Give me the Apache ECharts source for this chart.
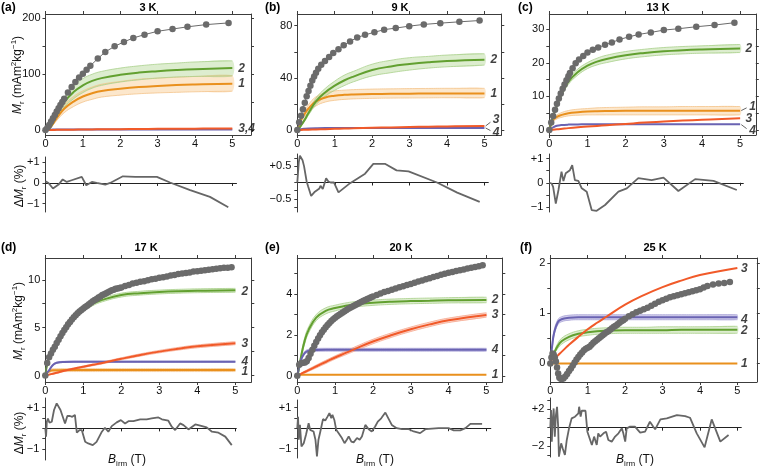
<!DOCTYPE html>
<html><head><meta charset="utf-8">
<script src="https://cdn.jsdelivr.net/npm/echarts@6/dist/echarts.min.js"></script>
<style>html,body{margin:0;padding:0;background:#fff}#c{width:763px;height:469px}</style>
</head><body><div id="c"></div>
<script>
// ---------- DATA ----------
const FX = [0, 0.05, 0.1, 0.2, 0.3, 0.5, 0.75, 1, 1.25, 1.5, 2, 2.5, 3, 3.5, 4, 5];

// (a) 3 K
const a_gx = [0,0.05,0.1,0.15,0.2,0.25,0.3,0.35,0.4,0.45,0.5,0.6,0.7,0.8,0.9,1.0,1.1,1.2,1.4,1.6,1.85,2.1,2.35,2.65,3.0,3.4,3.8,4.3,4.9];
const a_gy = [0,4,9,15,21,27,33,39,45,50,56,67,77,86,94,101,108,115,128,140,150,158,165,171,177,181,185,189,192];
const a_fit1 = [0,0,2,11,21,38,51,60,66,70,74,77,79,80.5,81.5,83];
const a_fit1lo = [0,0,1.5,9,17,31,42,50,55,59,62.5,65,66.5,67.5,68.5,69.5];
const a_fit1hi = [0,0,2.5,13,25,45,60,70,77,82,87,91,93,94.5,96,97.5];
const a_fit2 = [0,0,2,14,27,50,68,80,88,93,99,103,105.5,107.5,109,111];
const a_fit2lo = [0,0,1.5,11,22,41,56,67,75,80,86,90,93,95,96,97];
const a_fit2hi = [0,0,2.5,17,32,58,79,92,100,105,111,115,118,120,122,124];
const a_fit3 = [0,0,0,0.1,0.2,0.4,0.6,0.8,1,1.2,1.5,1.8,2.0,2.2,2.4,2.6];
const a_fit4 = [0,0.3,0.5,0.8,0.9,1,1,1,1,1,1,1,1,1,1,1];
const a_rx = [0,0.08,0.2,0.35,0.46,0.57,0.7,0.97,1.09,1.24,1.37,1.6,1.73,2.07,2.4,2.98,3.33,3.87,4.4,4.89];
const a_ry = [0.08,0,-0.27,-0.08,0.17,0.05,0.13,0.29,-0.11,0.05,0,-0.08,0,0.32,0.29,0.29,0.02,-0.35,-0.67,-1.17];
const a_lab = [[5.12,110,'2'],[5.12,83,'1'],[5.12,2,'3,4']];

// (b) 9 K
const b_gx = [0,0.05,0.1,0.15,0.2,0.25,0.3,0.35,0.4,0.45,0.5,0.56,0.64,0.74,0.85,0.96,1.1,1.24,1.41,1.6,1.81,2.06,2.32,2.63,2.99,3.38,3.82,4.33,4.87];
const b_gy = [0,6,11,16,21,26,30,34,38,41,44,47,50,53,56,59,62,65,68,71,73,75,77,78.2,79.7,81,82,83,84];
const b_fit1 = [0,3.5,7.7,12.5,16.5,22,25,26.3,27,27.3,27.6,27.8,27.9,28,28,28];
const b_fit1lo = [0,3,6.5,10.5,13.5,18.5,21.5,22.8,23.5,23.9,24.3,24.5,24.6,24.7,24.8,24.8];
const b_fit1hi = [0,4,8.9,14.5,19.5,25.5,28.5,30,30.6,31,31.4,31.6,31.8,31.9,32,32];
const b_fit2 = [0,1.5,3.5,8,13,22,29,34,38,41,46,48.8,50.6,52,53,54];
const b_fit2lo = [0,1.3,3,7,11.5,19.5,26,30.5,34,37,41.5,44,46,47.5,48.5,49.8];
const b_fit2hi = [0,1.7,4,9,14.5,24.5,32,37.5,42,45,50.5,53.5,55.5,56.5,57.5,58.5];
const b_fit3 = [0,0,0.1,0.2,0.3,0.5,0.7,0.9,1.1,1.3,1.7,2.0,2.3,2.6,2.8,3.1];
const b_fit4 = [0,0.4,0.7,1.0,1.2,1.4,1.5,1.5,1.5,1.5,1.5,1.5,1.5,1.5,1.5,1.5];
const b_rx = [0,0.04,0.07,0.11,0.14,0.18,0.25,0.29,0.37,0.47,0.59,0.62,0.68,0.77,0.83,0.89,0.98,1.1,1.41,1.81,2.03,2.34,2.65,2.97,3.73,4.27,4.87];
const b_ry = [0,0.62,0.82,0.8,0.68,0.5,0.03,-0.12,-0.41,-0.28,-0.18,-0.1,-0.2,0.13,0.03,0,0,-0.3,-0.02,0.27,0.57,0.57,0.37,0.34,0,-0.31,-0.59];
const b_lab = [[5.12,54,'2'],[5.12,28,'1'],[5.18,8.2,'3'],[5.18,-1.8,'4']];
const b_lead = [[[5.03,3.1],[5.16,6.0]],[[5.03,1.6],[5.16,-0.4]]];

// (c) 13 K
const c_gx = [0,0.05,0.1,0.15,0.2,0.25,0.3,0.35,0.4,0.45,0.5,0.54,0.61,0.69,0.78,0.89,1.0,1.14,1.28,1.46,1.64,1.84,2.09,2.34,2.66,3.0,3.38,3.85,4.33,4.85];
const c_gy = [0,2.2,4.2,6.0,7.8,9.4,10.9,12.3,13.6,14.8,16.0,17.0,18.4,19.9,21.0,22.1,23.1,23.9,24.6,25.4,26.1,27.0,27.8,28.5,29.1,29.8,30.2,30.8,31.3,32];
const c_fit1 = [0,1.8,3,3.9,4.4,5.0,5.3,5.5,5.6,5.65,5.7,5.7,5.7,5.7,5.7,5.7];
const c_fit1lo = [0,1.5,2.5,3.3,3.7,4.2,4.4,4.5,4.5,4.5,4.5,4.5,4.5,4.5,4.5,4.5];
const c_fit1hi = [0,2.1,3.5,4.5,5.1,5.8,6.2,6.4,6.6,6.7,6.8,6.9,6.9,7,7,7];
const c_fit2 = [0,2,4,7.3,10.2,14.4,17.3,19.2,20.4,21.2,22.3,23,23.5,23.8,24,24.3];
const c_fit2lo = [0,1.9,3.8,6.9,9.6,13.6,16.4,18.3,19.4,20.1,21.2,21.9,22.4,22.7,22.9,23.1];
const c_fit2hi = [0,2.1,4.2,7.7,10.8,15.2,18.2,20.1,21.4,22.3,23.4,24.1,24.6,24.9,25.1,25.5];
const c_fit3 = [0,0.05,0.1,0.2,0.3,0.55,0.8,1.0,1.2,1.4,1.8,2.2,2.5,2.8,3.05,3.5];
const c_fit4 = [0,0.45,0.8,1.25,1.45,1.6,1.65,1.7,1.7,1.7,1.7,1.7,1.7,1.7,1.7,1.7];
const c_rx = [0,0.06,0.1,0.17,0.24,0.32,0.37,0.43,0.54,0.6,0.67,0.76,0.85,0.98,1.11,1.24,1.46,1.81,2.03,2.33,2.68,2.99,3.38,3.82,4.3,4.91];
const c_ry = [0,-0.03,-0.17,-0.86,-0.3,0.46,0.07,0.39,0.52,0.73,0.11,0.08,-0.23,-0.37,-1.13,-1.16,-0.92,-0.37,-0.23,0.19,0.11,0.21,-0.34,0.15,0.08,-0.3];
const c_lab = [[5.1,24.3,'2'],[5.2,7.0,'1'],[5.1,3.5,'3'],[5.2,-0.3,'4']];
const c_lead = [[[5.03,5.8],[5.17,6.6]],[[5.03,1.6],[5.17,0.4]]];

// (d) 17 K
const d_gx = [0,0.05,0.1,0.15,0.2,0.25,0.3,0.35,0.4,0.45,0.5,0.55,0.6,0.65,0.7,0.75,0.8,0.85,0.9,0.95,1.0,1.05,1.1,1.15,1.2,1.25,1.3,1.35,1.4,1.45,1.5,1.55,1.6,1.65,1.7,1.75,1.8,1.85,1.9,1.95,2.0,2.1,2.2,2.3,2.4,2.5,2.6,2.7,2.8,2.9,3.0,3.1,3.2,3.3,3.4,3.5,3.6,3.7,3.8,3.9,4.0,4.1,4.2,4.3,4.4,4.5,4.6,4.7,4.8,4.9];
const d_gy = [0,1.3,1.9,2.3,2.7,3.0,3.4,3.75,4.1,4.45,4.75,5.05,5.35,5.6,5.85,6.1,6.3,6.5,6.7,6.85,7.0,7.15,7.3,7.45,7.6,7.75,7.9,8.0,8.15,8.25,8.4,8.5,8.6,8.7,8.8,8.9,8.95,9.05,9.1,9.15,9.2,9.35,9.45,9.6,9.7,9.8,9.85,9.95,10.05,10.1,10.2,10.25,10.35,10.45,10.5,10.6,10.65,10.7,10.75,10.85,10.9,10.95,11.0,11.05,11.1,11.15,11.2,11.25,11.25,11.3];
const d_fit1 = [0,0.3,0.45,0.55,0.56,0.57,0.57,0.57,0.57,0.57,0.57,0.57,0.57,0.57,0.57,0.57];
const d_fit1lo = [0,0.2,0.32,0.4,0.41,0.42,0.42,0.42,0.42,0.42,0.42,0.42,0.42,0.42,0.42,0.42];
const d_fit1hi = [0,0.4,0.58,0.7,0.71,0.72,0.72,0.72,0.72,0.72,0.72,0.72,0.72,0.72,0.72,0.72];
const d_fit2 = [0,1.2,1.85,2.65,3.35,4.7,6.0,6.9,7.5,7.9,8.4,8.6,8.72,8.8,8.85,8.9];
const d_fit2lo = [0,1.1,1.75,2.5,3.2,4.55,5.8,6.7,7.3,7.7,8.2,8.4,8.52,8.6,8.65,8.7];
const d_fit2hi = [0,1.3,1.95,2.8,3.5,4.85,6.2,7.1,7.7,8.1,8.6,8.8,8.92,9.0,9.05,9.1];
const d_fit3 = [0,0.05,0.1,0.2,0.3,0.5,0.72,0.92,1.12,1.32,1.75,2.15,2.5,2.8,3.05,3.38];
const d_fit3lo = [0,0.02,0.06,0.15,0.24,0.43,0.64,0.84,1.03,1.22,1.64,2.03,2.37,2.66,2.9,3.22];
const d_fit3hi = [0,0.08,0.14,0.25,0.36,0.57,0.8,1.0,1.21,1.42,1.86,2.27,2.63,2.94,3.2,3.54];
const d_fit4 = [0,0.3,0.55,1.1,1.33,1.43,1.45,1.45,1.45,1.45,1.45,1.45,1.45,1.45,1.45,1.45];
const d_fit4lo = [0,0.26,0.5,1.04,1.27,1.37,1.39,1.39,1.39,1.39,1.39,1.39,1.39,1.39,1.39,1.39];
const d_fit4hi = [0,0.34,0.6,1.16,1.39,1.49,1.51,1.51,1.51,1.51,1.51,1.51,1.51,1.51,1.51,1.51];
const d_rx = [0,0.02,0.04,0.07,0.11,0.17,0.23,0.3,0.34,0.4,0.46,0.52,0.58,0.65,0.71,0.78,0.83,0.9,0.96,1.05,1.13,1.25,1.35,1.49,1.57,1.66,1.75,1.88,1.99,2.1,2.19,2.32,2.5,2.67,2.8,2.98,3.07,3.24,3.33,3.42,3.55,3.64,3.77,3.95,4.08,4.25,4.39,4.56,4.74,4.91];
const d_ry = [0,-0.4,0.32,0.48,0.27,0.32,0.89,1.21,1.29,0.89,0.56,0.24,0.6,0.6,0.56,0.65,-0.21,-0.08,-0.08,-0.65,-0.73,-0.81,-0.65,-0.16,0.03,-0.16,0.11,0.29,0.4,0.24,0.35,0.35,0.44,0.44,0.48,0.53,0.44,0.37,0.08,-0.08,0.24,0.16,-0.05,0.19,0.13,0.05,-0.16,-0.21,-0.4,-0.81];
const d_lab = [[5.12,8.8,'2'],[5.12,3.36,'3'],[5.12,1.45,'4'],[5.12,0.45,'1']];

// (e) 20 K
const e_gx = [0,0.05,0.1,0.15,0.2,0.25,0.3,0.35,0.4,0.45,0.5,0.55,0.6,0.65,0.7,0.75,0.8,0.85,0.9,0.95,1.0,1.05,1.1,1.15,1.2,1.25,1.3,1.35,1.4,1.45,1.5,1.55,1.6,1.65,1.7,1.75,1.8,1.85,1.9,1.95,2.0,2.1,2.2,2.3,2.4,2.5,2.6,2.7,2.8,2.9,3.0,3.1,3.2,3.3,3.4,3.5,3.6,3.7,3.8,3.9,4.0,4.1,4.2,4.3,4.4,4.5,4.6,4.7,4.8,4.9];
const e_gy = [0,0.55,0.62,0.64,0.66,0.72,0.88,1.08,1.28,1.48,1.66,1.83,1.99,2.13,2.26,2.38,2.49,2.59,2.68,2.77,2.85,2.92,2.98,3.04,3.1,3.16,3.22,3.28,3.33,3.38,3.43,3.48,3.53,3.58,3.63,3.68,3.72,3.76,3.8,3.85,3.89,3.96,4.03,4.1,4.16,4.22,4.28,4.34,4.39,4.45,4.5,4.56,4.62,4.67,4.73,4.78,4.84,4.89,4.95,5.0,5.05,5.09,5.13,5.17,5.21,5.25,5.29,5.33,5.37,5.42];
const e_fit1 = [0,0.03,0.05,0.05,0.05,0.05,0.05,0.05,0.05,0.05,0.05,0.05,0.05,0.05,0.05,0.05];
const e_fit2 = [0,0.4,0.95,1.75,2.25,2.85,3.18,3.32,3.42,3.5,3.58,3.63,3.66,3.68,3.7,3.72];
const e_fit2lo = [0,0.35,0.85,1.6,2.1,2.7,3.03,3.18,3.29,3.37,3.45,3.5,3.53,3.55,3.57,3.58];
const e_fit2hi = [0,0.45,1.05,1.9,2.4,3.0,3.33,3.46,3.56,3.63,3.71,3.76,3.79,3.81,3.83,3.85];
const e_fit3 = [0,0.05,0.1,0.19,0.28,0.46,0.68,0.9,1.1,1.3,1.68,2.0,2.28,2.52,2.72,2.98];
const e_fit3lo = [0,0.03,0.07,0.14,0.22,0.39,0.6,0.82,1.01,1.2,1.57,1.89,2.17,2.41,2.61,2.87];
const e_fit3hi = [0,0.07,0.13,0.24,0.34,0.53,0.76,0.98,1.19,1.4,1.79,2.11,2.39,2.63,2.83,3.09];
const e_fit4 = [0,0.45,0.8,1.13,1.23,1.27,1.28,1.28,1.28,1.28,1.28,1.28,1.28,1.28,1.28,1.28];
const e_fit4lo = [0,0.39,0.73,1.06,1.16,1.2,1.21,1.21,1.21,1.21,1.21,1.21,1.21,1.21,1.21,1.21];
const e_fit4hi = [0,0.51,0.87,1.2,1.3,1.34,1.35,1.35,1.35,1.35,1.35,1.35,1.35,1.35,1.35,1.35];
const e_rx = [0,0.02,0.04,0.07,0.11,0.17,0.23,0.3,0.34,0.39,0.43,0.48,0.52,0.56,0.61,0.68,0.74,0.8,0.85,0.9,0.93,0.98,1.03,1.09,1.18,1.25,1.31,1.36,1.43,1.49,1.58,1.65,1.71,1.8,1.89,1.97,2.06,2.13,2.22,2.33,2.42,2.5,2.63,2.77,2.95,3.08,3.25,3.39,3.74,4.0,4.14,4.31,4.45,4.58,4.89];
const e_ry = [0,0.56,-0.56,0.16,-0.89,-0.73,-0.32,0.24,-0.08,-0.16,-0.16,-0.56,-1.37,-0.56,-0.16,0.44,0.37,0.56,0.73,0.48,0.65,0.4,-0.08,-0.24,-0.48,-0.73,-0.56,-0.4,-0.65,-0.69,-0.48,-0.56,-0.4,0.16,-0.05,-0.16,0.08,0.32,0.48,0.76,0.44,0.16,0,-0.05,-0.05,-0.16,-0.24,-0.05,0,0,-0.11,-0.11,0,0.21,0.21];
const e_lab = [[5.1,3.72,'2'],[5.1,2.98,'3'],[5.1,1.3,'4'],[5.1,0.07,'1']];

// (f) 25 K
const f_gx = [0,0.03,0.06,0.09,0.12,0.15,0.18,0.21,0.24,0.27,0.3,0.35,0.4,0.45,0.5,0.55,0.6,0.65,0.7,0.75,0.8,0.85,0.9,0.95,1.0,1.05,1.1,1.15,1.2,1.25,1.3,1.35,1.4,1.45,1.5,1.55,1.6,1.65,1.7,1.75,1.8,1.85,1.9,1.95,2.0,2.1,2.2,2.3,2.4,2.5,2.6,2.7,2.8,2.9,3.0,3.1,3.2,3.3,3.4,3.5,3.6,3.7,3.8,3.9,4.0,4.1,4.2,4.35,4.5,4.65,4.8];
const f_gy = [0,0.12,0.2,0.18,0.12,0.04,-0.08,-0.2,-0.28,-0.3,-0.31,-0.3,-0.26,-0.21,-0.15,-0.1,-0.04,0.02,0.08,0.13,0.18,0.22,0.26,0.29,0.31,0.33,0.37,0.41,0.44,0.47,0.5,0.53,0.56,0.59,0.62,0.64,0.67,0.7,0.73,0.75,0.78,0.81,0.84,0.86,0.89,0.94,0.98,1.02,1.05,1.08,1.11,1.15,1.19,1.23,1.26,1.29,1.32,1.34,1.36,1.38,1.4,1.42,1.44,1.46,1.48,1.51,1.54,1.57,1.59,1.6,1.62];
const f_fit1 = [0,0,0,0,0,0,0,0,0,0,0,0,0,0,0,0];
const f_fit2 = [0.05,0.1,0.2,0.35,0.44,0.53,0.59,0.62,0.64,0.65,0.66,0.66,0.66,0.67,0.67,0.67];
const f_fit2lo = [0.05,0.08,0.17,0.3,0.38,0.47,0.53,0.56,0.58,0.59,0.6,0.6,0.6,0.6,0.6,0.6];
const f_fit2hi = [0.05,0.12,0.23,0.4,0.5,0.59,0.65,0.68,0.7,0.71,0.72,0.72,0.73,0.73,0.73,0.74];
const f_fit3 = [0.05,0.08,0.1,0.16,0.23,0.37,0.53,0.68,0.81,0.93,1.17,1.36,1.52,1.65,1.76,1.9];
const f_fit4 = [0.05,0.35,0.6,0.82,0.88,0.91,0.92,0.92,0.92,0.92,0.92,0.92,0.92,0.92,0.92,0.92];
const f_fit4lo = [0.05,0.3,0.55,0.77,0.83,0.86,0.87,0.87,0.87,0.87,0.87,0.87,0.87,0.87,0.87,0.87];
const f_fit4hi = [0.05,0.4,0.65,0.87,0.93,0.96,0.97,0.97,0.97,0.97,0.97,0.97,0.97,0.97,0.97,0.97];
const f_rx = [0,0.02,0.04,0.06,0.09,0.12,0.15,0.18,0.21,0.23,0.29,0.33,0.39,0.44,0.5,0.57,0.61,0.66,0.7,0.75,0.77,0.81,0.84,0.88,0.94,0.99,1.04,1.11,1.17,1.24,1.28,1.33,1.42,1.49,1.55,1.64,1.73,1.82,1.91,1.95,2.0,2.04,2.13,2.26,2.4,2.53,2.66,2.75,2.8,2.94,3.11,3.38,3.6,3.73,3.91,4.12,4.31,4.54,4.76];
const f_ry = [0,1.89,-1.5,0.46,2.07,-0.96,1.36,2.25,0.11,-3.11,-1.68,-2.21,-2.93,-1.32,-0.07,1.0,1.18,1.18,1.36,1.54,2.25,1.18,1.82,1.89,1.82,-0.43,-0.61,-1.86,-0.96,-1.86,-0.61,-0.96,-0.61,-0.43,-1.32,-1.5,-0.96,-0.61,-0.07,-0.61,-1.5,-0.07,0.11,0.11,-0.54,-0.43,0.64,0.11,-0.18,0.89,1.0,1.36,1.25,1.07,-0.61,-2.11,0.89,-1.5,-0.79];
const f_lab = [[5.06,1.88,'3'],[5.06,0.88,'4'],[5.06,0.65,'2'],[5.06,0,'1']];

const TITLES = ['3 K','9 K','13 K','17 K','20 K','25 K'];
const LETTERS = ['(a)','(b)','(c)','(d)','(e)','(f)'];

// ---------- STYLE / LAYOUT ----------
const FONT = '"Liberation Sans", Arial, Helvetica, sans-serif';
const AX = '#3c3c3c';
const GRAY = '#6b6b6b';
const COL = {
  orange:{c:'#e9901d', fill:'rgba(247,186,110,0.35)', edge:'#f4c48c'},
  green:{c:'#62a030', fill:'rgba(150,200,105,0.32)', edge:'#a9d08b'},
  red:{c:'#f15a29', fill:'rgba(242,130,100,0.35)', edge:'#f6a88e'},
  purple:{c:'#6a63b2', fill:'rgba(125,115,200,0.35)', edge:'#a7a1d6'}
};
const PANELS = [
  {fits:[[a_fit1,a_fit1lo,a_fit1hi,'orange'],[a_fit2,a_fit2lo,a_fit2hi,'green'],[a_fit4,null,null,'purple'],[a_fit3,null,null,'red']],
   gray:[a_gx,a_gy], res:[a_rx,a_ry], lab:a_lab, lead:[],
   g:{l:45.5,t:14,w:205.5,h:121,xmax:5.5,ymin:-9,ymax:208,yt:[0,50,100,150,200],yl:[0,100,200]},
   r:{l:45.5,t:157,w:191,h:55,xmax:5.11,ymin:-1.4,ymax:1.25,yt:[-1,-0.5,0,0.5,1],yl:[-1,0,1]},
   tx:148, ty:8, lx:1},
  {fits:[[b_fit1,b_fit1lo,b_fit1hi,'orange'],[b_fit2,b_fit2lo,b_fit2hi,'green'],[b_fit4,null,null,'purple'],[b_fit3,null,null,'red']],
   gray:[b_gx,b_gy], res:[b_rx,b_ry], lab:b_lab, lead:b_lead,
   g:{l:297.3,t:14,w:204,h:121,xmax:5.45,ymin:-3.8,ymax:89,yt:[0,20,40,60,80],yl:[0,40,80]},
   r:{l:297.3,t:154,w:191,h:58,xmax:5.1,ymin:-0.9,ymax:0.87,yt:[-0.75,-0.5,-0.25,0,0.25,0.5,0.75],yl:[-0.5,0.5]},
   tx:400, ty:8, lx:265},
  {fits:[[c_fit1,c_fit1lo,c_fit1hi,'orange'],[c_fit2,c_fit2lo,c_fit2hi,'green'],[c_fit4,null,null,'purple'],[c_fit3,null,null,'red']],
   gray:[c_gx,c_gy], res:[c_rx,c_ry], lab:c_lab, lead:c_lead,
   g:{l:549.3,t:14,w:206.5,h:121,xmax:5.41,ymin:-1.5,ymax:34.6,yt:[0,5,10,15,20,25,30],yl:[0,10,20,30]},
   r:{l:549.3,t:154,w:194,h:58,xmax:5.08,ymin:-1.21,ymax:1.19,yt:[-1,-0.5,0,0.5,1],yl:[-1,0,1]},
   tx:658, ty:8, lx:518},
  {fits:[[d_fit1,d_fit1lo,d_fit1hi,'orange'],[d_fit2,d_fit2lo,d_fit2hi,'green'],[d_fit4,d_fit4lo,d_fit4hi,'purple'],[d_fit3,d_fit3lo,d_fit3hi,'red']],
   gray:[d_gx,d_gy], res:[d_rx,d_ry], lab:d_lab, lead:[],
   g:{l:45.3,t:258,w:206,h:124,xmax:5.42,ymin:-0.67,ymax:12.27,yt:[0,2.5,5,7.5,10],yl:[0,5,10]},
   r:{l:45.3,t:398,w:191,h:62,xmax:5.03,ymin:-1.53,ymax:1.47,yt:[-1,-0.5,0,0.5,1],yl:[-1,1]},
   tx:146, ty:248, lx:1, bx:127},
  {fits:[[e_fit1,null,null,'orange'],[e_fit2,e_fit2lo,e_fit2hi,'green'],[e_fit4,e_fit4lo,e_fit4hi,'purple'],[e_fit3,e_fit3lo,e_fit3hi,'red']],
   gray:[e_gx,e_gy], res:[e_rx,e_ry], lab:e_lab, lead:[],
   g:{l:297.3,t:258,w:205,h:124,xmax:5.42,ymin:-0.3,ymax:5.77,yt:[0,1,2,3,4,5],yl:[0,2,4]},
   r:{l:297.3,t:400,w:193.5,h:58,xmax:5.12,ymin:-1.45,ymax:1.37,yt:[-1,-0.5,0,0.5,1],yl:[-1,1]},
   tx:401, ty:248, lx:265, bx:375},
  {fits:[[f_fit1,null,null,'orange'],[f_fit2,f_fit2lo,f_fit2hi,'green'],[f_fit4,f_fit4lo,f_fit4hi,'purple'],[f_fit3,null,null,'red']],
   gray:[f_gx,f_gy], res:[f_rx,f_ry], lab:f_lab, lead:[],
   g:{l:550.3,t:258,w:206.5,h:124,xmax:5.52,ymin:-0.37,ymax:2.1,yt:[0,0.5,1,1.5,2],yl:[0,1,2]},
   r:{l:550.3,t:398,w:191,h:59,xmax:5.1,ymin:-3.15,ymax:3.19,yt:[-3,-2,-1,0,1,2,3],yl:[-2,2]},
   tx:655, ty:248, lx:520, bx:635}
];

const pts = (xs, ys) => xs.map((x, i) => [x, ys[i]]);
const XT = [0,1,2,3,4,5];
const lbl = {fontFamily:FONT, fontSize:11, color:'#111'};

function mainX(gi, g, pos, labels) {
  return {type:'value', gridIndex:gi, position:pos, min:0, max:g.xmax,
    axisLine:{show:true, onZero:false, lineStyle:{color:AX, width:1}},
    axisTick:{show:true, inside:false, length:3, customValues:XT, lineStyle:{color:AX}},
    axisLabel:Object.assign({show:labels, customValues:XT, margin:3}, lbl),
    splitLine:{show:false}};
}
function mainY(gi, g, pos, labels) {
  return {type:'value', gridIndex:gi, position:pos, min:g.ymin, max:g.ymax,
    axisLine:{show:true, onZero:false, lineStyle:{color:AX, width:1}},
    axisTick:{show:true, inside:false, length:3, customValues:g.yt, lineStyle:{color:AX}},
    axisLabel:Object.assign({show:labels, customValues:g.yl, margin:5}, lbl),
    splitLine:{show:false}};
}
function resX(gi, r) {
  return {type:'value', gridIndex:gi, min:0, max:r.xmax,
    axisLine:{show:true, onZero:true, lineStyle:{color:'#222', width:1}},
    axisTick:{show:true, inside:false, length:3, customValues:[1,2,3,4,5], lineStyle:{color:'#222'}},
    axisLabel:{show:false}, splitLine:{show:false}};
}
function resY(gi, r) {
  return {type:'value', gridIndex:gi, position:'left', min:r.ymin, max:r.ymax,
    axisLine:{show:true, onZero:false, lineStyle:{color:AX, width:1}},
    axisTick:{show:true, inside:false, length:3, customValues:r.yt, lineStyle:{color:AX}},
    axisLabel:Object.assign({show:true, customValues:r.yl, margin:6,
      formatter:v => v > 0 ? '+' + v : (v < 0 ? '\u2212' + Math.abs(v) : '0')}, lbl),
    splitLine:{show:false}};
}
function band(xi, yi, lo, hi, fill) {
  return {type:'custom', coordinateSystem:'cartesian2d', xAxisIndex:xi, yAxisIndex:yi,
    data:[[0,0]], silent:true, z:1, clip:true, animation:false,
    renderItem:(params, api) => {
      const up = FX.map((x, i) => api.coord([x, hi[i]]));
      const dn = FX.map((x, i) => api.coord([x, lo[i]])).reverse();
      return {type:'polygon', shape:{points:up.concat(dn), smooth:0.25}, style:{fill:fill, stroke:null}};
    }};
}
function lineS(xi, yi, data, color, width, z) {
  return {type:'line', xAxisIndex:xi, yAxisIndex:yi, data:data, symbol:'none', smooth:0.45,
    lineStyle:{color:color, width:width}, z:z, silent:true, animation:false};
}

const option = {animation:false, backgroundColor:'#fff', grid:[], xAxis:[], yAxis:[], series:[], graphic:[]};

PANELS.forEach((P, p) => {
  const g = P.g, r = P.r;
  option.grid.push({left:g.l, top:g.t, width:g.w, height:g.h, containLabel:false, outerBoundsMode:'none'});
  option.grid.push({left:r.l, top:r.t, width:r.w, height:r.h, containLabel:false, outerBoundsMode:'none'});
  option.xAxis.push(mainX(2*p, g, 'bottom', true), mainX(2*p, g, 'top', false), resX(2*p+1, r));
  option.yAxis.push(mainY(2*p, g, 'left', true), mainY(2*p, g, 'right', false), resY(2*p+1, r));
  const ai = 3*p, ri = 3*p + 2;
  P.fits.forEach(f => {
    if (f[1]) {
      const c = COL[f[3]];
      option.series.push(band(ai, ai, f[1], f[2], c.fill));
      option.series.push(lineS(ai, ai, pts(FX, f[1]), c.edge, 0.8, 2));
      option.series.push(lineS(ai, ai, pts(FX, f[2]), c.edge, 0.8, 2));
    }
  });
  P.fits.forEach(f => {
    option.series.push(lineS(ai, ai, pts(FX, f[0]), COL[f[3]].c, 2, 3));
  });
  option.series.push({type:'line', xAxisIndex:ai, yAxisIndex:ai, data:pts(P.gray[0], P.gray[1]),
    symbol:'circle', symbolSize:6.5, showSymbol:true, showAllSymbol:true,
    lineStyle:{color:GRAY, width:1}, itemStyle:{color:GRAY}, z:5, silent:true, animation:false});
  P.lead.forEach(L => option.series.push({type:'line', xAxisIndex:ai, yAxisIndex:ai, data:L, symbol:'none',
    lineStyle:{color:'#222', width:0.7}, z:6, silent:true, clip:false, animation:false}));
  option.series.push({type:'scatter', xAxisIndex:ai, yAxisIndex:ai, data:P.lab, symbolSize:1,
    itemStyle:{color:'rgba(0,0,0,0)'}, silent:true, z:10, clip:false, animation:false,
    label:{show:true, position:'right', distance:1, formatter:q => q.data[2], fontFamily:FONT,
      fontSize:12, fontWeight:'bold', fontStyle:'italic', color:'#111'}});
  option.series.push({type:'line', xAxisIndex:ri, yAxisIndex:ri, data:pts(P.res[0], P.res[1]), symbol:'none',
    lineStyle:{color:'#666', width:1.8}, z:4, silent:true, animation:false});

  option.graphic.push({type:'text', x:P.lx, y:P.ty, silent:true,
    style:{text:LETTERS[p], font:'bold 12px ' + FONT, fill:'#000', align:'left', verticalAlign:'middle', textAlign:'left', textVerticalAlign:'middle'}});
  option.graphic.push({type:'text', x:P.tx, y:P.ty, silent:true,
    style:{text:TITLES[p], font:'bold 11px ' + FONT, fill:'#000', align:'center', verticalAlign:'middle', textAlign:'center', textVerticalAlign:'middle'}});
});

const RICH = {
  n:{fontSize:12, fontFamily:FONT, fill:'#111', color:'#111', lineHeight:16},
  i:{fontSize:12, fontFamily:FONT, fontStyle:'italic', fill:'#111', color:'#111', lineHeight:16},
  s:{fontSize:8, fontFamily:FONT, fill:'#111', color:'#111', verticalAlign:'bottom', lineHeight:10},
  p:{fontSize:8, fontFamily:FONT, fill:'#111', color:'#111', verticalAlign:'top', lineHeight:10}
};
function richText(x, y, text, rot) {
  return {type:'text', x:x, y:y, rotation:rot, silent:true,
    style:{text:text, rich:RICH, font:'12px ' + FONT, fill:'#111', align:'center', verticalAlign:'middle', textAlign:'center', textVerticalAlign:'middle'}};
}
const MR = '{i|M}{s|r}{n| (mAm}{p|2}{n|kg}{p|\u22121}{n|)}';
const DMR = '{n|\u0394}{i|M}{s|r}{n| (%)}';
const BIRM = '{i|B}{s|irm}{n| (T)}';
option.graphic.push(richText(18, 75, MR, Math.PI/2));
option.graphic.push(richText(19, 321, MR, Math.PI/2));
option.graphic.push(richText(20, 186, DMR, Math.PI/2));
option.graphic.push(richText(20, 433, DMR, Math.PI/2));
[3,4,5].forEach(p => option.graphic.push(richText(PANELS[p].bx, 460, BIRM, 0)));

const chart = echarts.init(document.getElementById('c'), null, {renderer:'canvas'});
chart.setOption(option);
</script></body></html>
